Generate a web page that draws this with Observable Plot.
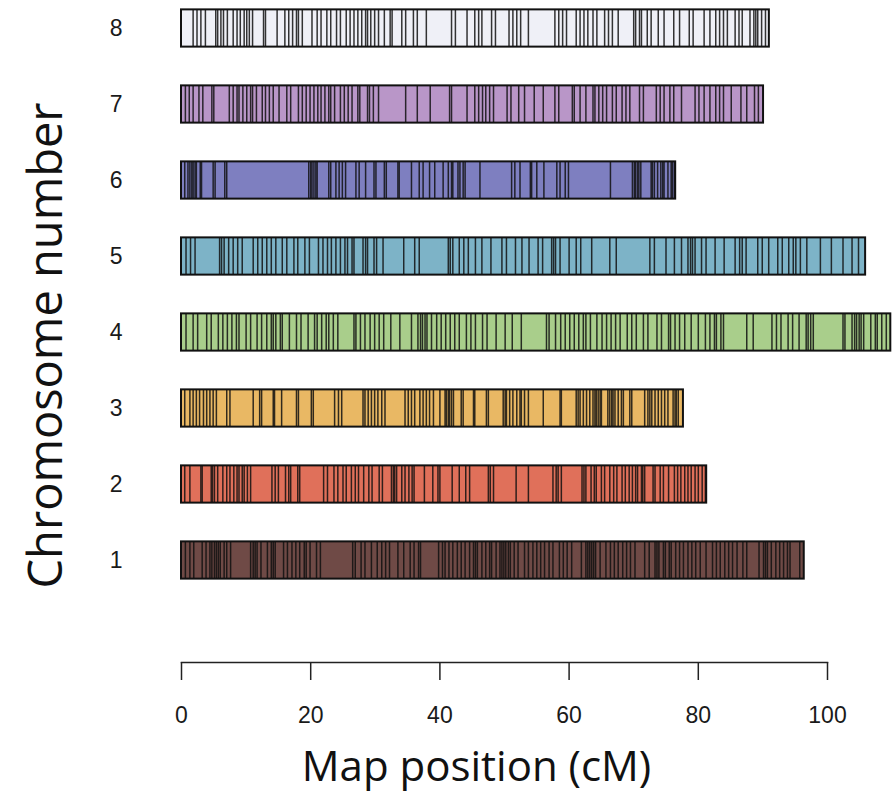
<!DOCTYPE html>
<html>
<head>
<meta charset="utf-8">
<script src="https://cdn.jsdelivr.net/npm/d3@7"></script>
<script src="https://cdn.jsdelivr.net/npm/@observablehq/plot@0.6"></script>
<style>
  html, body { margin: 0; padding: 0; background: #fff; }
</style>
</head>
<body>
<div id="chart"></div>
<script>
// Linkage map: one bar per chromosome, a vertical line for every marker (cM).
const chroms = [1, 2, 3, 4, 5, 6, 7, 8];
const lengths = [96.4, 81.3, 77.7, 109.8, 105.9, 76.5, 90.1, 91.0];
const palette = ["#6f4a46", "#e0705a", "#e9b864", "#a9ce8b", "#7db3c7", "#7e7fc0", "#b996c8", "#eff0f7"];
const xTicks = [0, 20, 40, 60, 80, 100];

const chr1 = [0.6, 1.3, 1.9, 3.2, 3.8, 4.4, 4.7, 5.1, 5.4, 5.7, 6.0, 6.6, 7.0, 7.6, 10.7, 11.1, 11.4, 11.7, 12.3, 13.3, 13.9, 14.2, 14.5, 15.8, 16.4, 17.1, 17.7, 18.3, 19.0, 19.3, 19.9, 20.9, 21.5, 26.5, 26.9, 27.8, 28.4, 29.4, 30.3, 31.0, 31.6, 32.2, 33.5, 34.4, 35.4, 36.0, 36.7, 37.0, 39.8, 40.4, 40.8, 41.4, 42.0, 42.7, 43.3, 43.9, 44.6, 45.2, 45.5, 45.8, 46.5, 47.1, 47.7, 48.0, 48.7, 49.3, 49.6, 49.9, 50.2, 50.6, 50.9, 51.5, 52.1, 53.1, 53.7, 54.4, 55.0, 55.6, 56.2, 56.9, 57.5, 58.5, 59.1, 59.7, 60.4, 61.9, 62.6, 62.9, 63.2, 63.5, 63.8, 64.1, 64.8, 65.7, 66.4, 67.0, 67.6, 68.3, 68.9, 69.5, 70.2, 71.7, 72.4, 73.3, 73.6, 73.9, 74.6, 74.9, 75.5, 75.8, 76.5, 77.1, 77.7, 78.4, 79.0, 79.6, 80.3, 81.2, 82.2, 82.8, 83.4, 84.1, 84.7, 85.3, 86.0, 86.9, 87.5, 89.4, 90.1, 90.4, 90.7, 91.3, 92.0, 92.6, 93.2, 93.8, 94.2, 95.7];
const chr2 = [0.5, 1.3, 3.0, 3.2, 4.6, 4.8, 5.1, 5.6, 6.4, 7.0, 7.5, 8.1, 8.6, 8.9, 9.4, 9.7, 10.2, 10.7, 14.0, 14.5, 15.0, 16.1, 16.6, 16.9, 18.0, 18.3, 22.0, 22.6, 23.6, 24.2, 25.0, 25.5, 26.3, 26.9, 27.4, 28.2, 29.0, 29.5, 30.6, 31.1, 32.5, 32.8, 33.0, 33.3, 34.1, 34.6, 35.2, 35.7, 36.0, 37.6, 38.9, 39.7, 40.0, 41.9, 43.0, 44.0, 44.6, 47.5, 47.8, 48.3, 51.8, 53.7, 57.5, 58.0, 58.3, 58.8, 62.0, 62.3, 62.6, 63.4, 63.9, 64.2, 65.0, 65.5, 66.3, 66.9, 67.4, 68.2, 68.7, 69.3, 69.8, 70.3, 70.6, 71.2, 71.4, 71.7, 73.0, 73.3, 74.1, 74.6, 75.4, 76.3, 76.8, 77.3, 77.9, 78.4, 78.9, 79.5, 80.0, 80.6, 81.1];
const chr3 = [0.5, 1.3, 1.8, 2.3, 2.8, 3.4, 3.9, 4.4, 4.9, 5.4, 7.0, 7.5, 11.1, 12.1, 12.4, 14.2, 14.4, 15.5, 17.8, 18.1, 20.1, 20.4, 23.7, 24.3, 24.8, 28.1, 28.4, 28.9, 29.4, 29.9, 30.4, 31.0, 31.5, 34.6, 35.1, 35.6, 36.1, 36.9, 37.4, 37.9, 38.4, 39.0, 40.0, 40.8, 41.0, 41.3, 41.5, 41.8, 42.1, 43.3, 43.6, 45.2, 45.4, 47.2, 47.5, 49.8, 50.1, 50.3, 50.8, 51.3, 51.9, 52.4, 52.6, 53.1, 53.7, 56.0, 58.6, 58.8, 61.1, 61.4, 61.7, 62.2, 62.7, 63.2, 63.7, 64.0, 64.2, 64.5, 64.8, 65.0, 66.0, 66.3, 66.6, 66.8, 67.1, 67.6, 68.1, 68.4, 69.4, 69.7, 71.7, 72.2, 72.5, 72.8, 73.3, 73.8, 74.3, 74.8, 75.3, 76.1, 76.4, 76.6, 76.9];
const chr4 = [0.7, 1.8, 2.5, 3.9, 4.6, 5.7, 6.4, 7.1, 7.8, 8.5, 8.9, 10.0, 10.7, 11.7, 12.4, 13.2, 13.9, 14.2, 14.6, 15.3, 15.6, 16.7, 17.8, 18.5, 19.6, 20.6, 21.0, 21.7, 22.4, 22.8, 23.5, 24.2, 26.7, 27.0, 27.7, 28.4, 29.2, 29.9, 30.6, 31.3, 32.4, 33.8, 35.6, 36.6, 37.0, 37.3, 37.7, 38.0, 38.7, 39.5, 40.2, 40.9, 41.6, 42.3, 43.0, 44.1, 44.8, 45.5, 46.6, 47.3, 48.7, 50.1, 51.2, 52.6, 56.5, 56.9, 57.9, 58.7, 59.4, 60.1, 60.8, 61.5, 62.2, 62.6, 63.3, 64.3, 65.1, 65.8, 66.5, 67.2, 67.9, 69.0, 69.7, 70.4, 71.5, 72.2, 73.6, 74.3, 75.4, 75.7, 76.4, 77.1, 77.9, 78.9, 80.0, 81.1, 81.8, 82.5, 82.8, 83.5, 83.9, 87.5, 88.5, 91.4, 92.1, 92.8, 93.9, 94.6, 95.6, 96.7, 97.0, 97.4, 97.8, 102.4, 102.7, 103.8, 104.2, 104.5, 104.9, 105.2, 105.6, 106.7, 107.4, 107.7, 108.4, 109.1];
const chr5 = [0.7, 1.4, 2.1, 5.9, 6.2, 6.6, 7.3, 8.0, 8.7, 9.4, 11.1, 11.8, 12.5, 13.2, 13.9, 14.6, 15.6, 16.3, 17.4, 18.0, 19.1, 19.8, 21.2, 21.9, 22.6, 23.2, 23.9, 24.6, 25.3, 25.7, 26.4, 26.7, 28.1, 28.5, 28.8, 29.8, 30.2, 31.2, 34.4, 36.1, 36.8, 41.3, 41.6, 42.0, 43.0, 43.7, 44.4, 45.5, 46.5, 47.9, 49.6, 50.3, 51.7, 52.7, 53.8, 55.2, 55.9, 57.3, 57.6, 57.9, 58.6, 60.0, 61.1, 61.8, 63.5, 66.3, 67.3, 72.5, 73.2, 75.0, 76.3, 77.4, 78.4, 78.8, 79.1, 79.5, 80.5, 81.2, 82.6, 84.0, 85.7, 86.4, 86.8, 87.4, 89.2, 89.9, 90.9, 92.3, 93.0, 94.0, 94.7, 95.1, 95.8, 96.8, 98.9, 100.6, 102.4, 103.8, 104.8];
const chr6 = [0.5, 1.0, 1.3, 1.6, 1.8, 2.1, 2.3, 2.9, 3.1, 4.9, 5.2, 6.7, 7.0, 19.7, 20.0, 20.2, 20.5, 20.8, 21.0, 22.8, 23.1, 23.9, 24.4, 24.9, 25.4, 27.0, 27.5, 28.5, 29.8, 30.1, 31.4, 31.7, 33.5, 33.7, 35.6, 36.8, 37.4, 38.4, 39.2, 40.5, 41.3, 41.8, 42.0, 42.8, 43.1, 43.6, 43.9, 46.2, 51.1, 51.6, 52.4, 54.0, 54.2, 55.0, 56.1, 58.1, 58.6, 59.4, 59.9, 66.4, 69.8, 70.1, 70.3, 70.6, 70.8, 71.1, 72.7, 72.9, 73.2, 73.7, 74.2, 74.5, 74.7, 75.3, 75.8, 76.0, 76.3];
const chr7 = [0.6, 1.2, 1.8, 2.7, 3.3, 4.7, 5.0, 7.4, 8.0, 8.6, 8.9, 9.5, 10.1, 10.7, 11.0, 11.6, 12.5, 13.0, 13.6, 14.2, 15.1, 16.3, 16.9, 18.1, 18.7, 19.3, 19.9, 20.5, 21.1, 21.6, 22.2, 22.8, 23.1, 23.7, 24.6, 25.2, 25.8, 26.4, 27.3, 27.6, 28.8, 29.1, 29.7, 30.5, 34.7, 36.5, 38.5, 41.5, 41.8, 44.2, 45.4, 46.0, 46.6, 47.1, 47.7, 48.3, 50.4, 51.0, 52.2, 53.1, 54.6, 56.0, 57.8, 58.4, 60.5, 60.8, 61.7, 62.6, 63.7, 64.0, 64.6, 65.2, 65.8, 66.7, 67.3, 68.2, 68.8, 69.4, 70.9, 71.5, 73.5, 74.1, 74.7, 75.6, 76.2, 77.4, 79.5, 80.1, 80.9, 81.8, 82.7, 83.3, 83.9, 85.1, 86.6, 87.5, 88.7, 89.3];
const chr8 = [1.8, 2.4, 3.0, 3.7, 5.3, 5.6, 6.1, 6.5, 7.1, 8.0, 8.6, 9.1, 9.7, 10.1, 10.5, 11.0, 12.7, 13.0, 14.8, 16.0, 16.6, 17.2, 17.8, 18.1, 18.7, 20.2, 21.0, 21.6, 22.5, 23.1, 24.0, 24.6, 25.5, 26.1, 26.7, 27.3, 27.9, 28.5, 28.8, 29.3, 29.9, 30.5, 31.4, 32.3, 32.6, 34.1, 34.7, 35.9, 36.5, 37.9, 41.8, 42.4, 44.2, 45.4, 46.0, 46.5, 48.0, 48.6, 50.7, 51.3, 51.9, 52.5, 53.7, 57.8, 58.4, 59.0, 59.6, 61.1, 61.7, 62.3, 62.9, 63.7, 64.3, 65.5, 66.1, 66.7, 67.6, 70.0, 70.3, 70.9, 71.2, 72.1, 72.7, 73.8, 74.7, 76.2, 77.1, 78.6, 79.2, 80.9, 81.8, 82.7, 83.3, 83.9, 84.5, 85.7, 86.3, 86.8, 88.0, 88.6, 88.9, 89.2, 89.8, 90.4];

const markerLists = [chr1, chr2, chr3, chr4, chr5, chr6, chr7, chr8];

const bars = chroms.map((c, i) => ({chrom: c, length: lengths[i]}));
const markers = chroms.flatMap((c, i) => markerLists[i].map(pos => ({chrom: c, pos})));

const half = 0.245; // half bar thickness, in chromosome units
const barLo = d => d.chrom - half;
const barHi = d => d.chrom + half;

const chart = Plot.plot({
  width: 892,
  height: 792,
  marginLeft: 181,
  marginRight: 65,
  marginTop: 0,
  marginBottom: 130,
  x: {domain: [0, 100]},
  y: {domain: [1, 8], range: [560, 28]},
  color: {type: "ordinal", domain: chroms, range: palette},
  style: {fontFamily: "'Liberation Sans', Arial, sans-serif", fontSize: "23px", color: "#1a1a1a", background: "#fff"},
  marks: [
    Plot.rect(bars, {x1: () => 0, x2: "length", y1: barLo, y2: barHi, fill: "chrom"}),
    Plot.ruleX(markers, {x: "pos", y1: barLo, y2: barHi, stroke: "#111", strokeOpacity: 0.85, strokeWidth: 1.5}),
    Plot.rect(bars, {x1: () => 0, x2: "length", y1: barLo, y2: barHi, fill: "none", stroke: "#111", strokeWidth: 2}),
    Plot.frame({anchor: "bottom", stroke: "#222", strokeWidth: 1.5}),
    Plot.axisX({ticks: xTicks, tickSize: 18, tickPadding: 26, label: null, strokeWidth: 1.5, stroke: "#222", fontSize: 23}),
    Plot.axisY({ticks: chroms, tickSize: 0, tickPadding: 59, label: null, tickFormat: d => String(d), fontSize: 23}),
    Plot.text(["Map position (cM)"], {text: d => d, frameAnchor: "bottom", lineAnchor: "middle", textAnchor: "middle", dx: -28, dy: 105, fontSize: 42, fontFamily: "'Open Sans', sans-serif", fill: "#111"}),
    Plot.text(["Chromosome number"], {text: d => d, frameAnchor: "left", lineAnchor: "middle", textAnchor: "middle", rotate: -90, dx: -135, dy: 14, fontSize: 47, fontFamily: "'Open Sans', sans-serif", fill: "#111"})
  ]
});

document.getElementById("chart").appendChild(chart);
</script>
</body>
</html>
